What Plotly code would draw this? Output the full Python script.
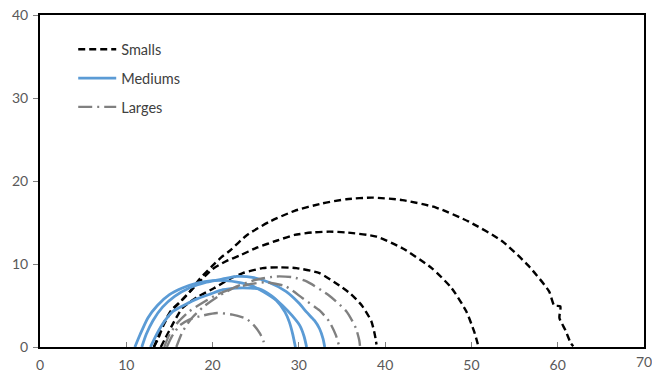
import plotly.graph_objects as go

# ---- data ----
small_1_x = [13.2, 13.6, 14.2, 15.2, 16.3, 17.3, 18.5, 20.0, 21.0, 22.0, 24.0, 26.6, 29.5, 32.7, 35.5, 38.5, 42.0, 45.9, 49.7, 53.5, 56.6, 59.0, 59.6, 60.3, 60.2, 60.9, 61.5, 61.8]
small_1_y = [0.0, 1.0, 2.6, 4.4, 5.5, 6.6, 8.2, 9.8, 10.8, 11.6, 13.5, 15.1, 16.4, 17.3, 17.8, 18.0, 17.7, 16.8, 15.1, 12.8, 9.8, 6.7, 5.0, 4.9, 3.5, 2.0, 0.5, 0.1]
small_2_x = [13.2, 13.7, 14.3, 15.3, 16.4, 17.5, 18.8, 20.0, 21.5, 23.1, 25.2, 27.4, 29.5, 31.6, 33.5, 35.5, 39.0, 42.0, 45.4, 47.7, 49.4, 50.3, 50.7, 50.8]
small_2_y = [0.0, 1.0, 2.6, 4.4, 5.6, 6.8, 8.2, 9.4, 10.3, 11.0, 12.0, 12.8, 13.5, 13.8, 13.9, 13.8, 13.3, 11.9, 9.5, 7.1, 4.3, 1.9, 0.5, 0.0]
small_3_x = [14.0, 14.5, 15.2, 16.5, 18.2, 20.2, 22.0, 23.5, 25.8, 27.7, 29.7, 32.4, 34.7, 36.0, 37.3, 38.4, 38.8, 39.0]
small_3_y = [0.0, 1.0, 2.4, 4.7, 6.0, 7.1, 8.2, 8.9, 9.5, 9.6, 9.5, 8.9, 7.4, 6.4, 5.0, 3.1, 1.5, 0.3]

medium_1_x = [11.0, 11.6, 12.5, 13.6, 15.0, 16.5, 18.2, 20.0, 21.5, 23.0, 24.5, 26.0, 27.4, 28.4, 28.9, 29.3, 29.6]
medium_1_y = [0.0, 1.5, 3.5, 5.0, 6.3, 7.1, 7.7, 8.0, 8.0, 7.8, 7.4, 6.6, 5.6, 4.2, 3.0, 1.5, 0.0]
medium_2_x = [11.8, 12.3, 13.1, 14.2, 15.6, 17.3, 19.3, 21.2, 22.8, 24.6, 26.5, 28.5, 30.0, 30.9, 31.8, 32.4, 32.8, 33.0]
medium_2_y = [0.0, 1.5, 3.2, 4.8, 6.1, 7.1, 7.8, 8.2, 8.5, 8.4, 7.8, 6.7, 5.3, 4.2, 3.2, 2.2, 1.0, 0.0]
medium_3_x = [12.8, 13.5, 14.5, 15.4, 16.8, 18.2, 19.8, 21.2, 22.8, 24.3, 25.4, 26.8, 28.1, 29.2, 30.1, 30.6, 30.9]
medium_3_y = [0.0, 1.5, 3.2, 4.3, 5.1, 5.8, 6.4, 6.9, 7.1, 7.1, 7.0, 6.2, 5.0, 3.8, 2.6, 1.3, 0.0]

large_1_x = [14.7, 15.3, 16.2, 17.3, 18.5, 20.5, 22.3, 23.9, 24.8, 25.5, 25.9, 26.0]
large_1_y = [0.0, 1.3, 2.6, 3.3, 3.7, 4.1, 3.9, 3.4, 2.6, 1.6, 0.7, 0.0]
large_2_x = [14.4, 15.0, 16.0, 17.3, 18.8, 20.5, 22.5, 24.5, 26.2, 28.5, 30.4, 32.4, 33.5, 34.3, 34.7]
large_2_y = [0.0, 1.5, 3.0, 4.3, 5.3, 6.3, 7.1, 7.6, 7.8, 7.3, 5.9, 4.4, 3.1, 1.4, 0.0]
large_3_x = [15.8, 16.5, 17.6, 19.0, 20.8, 22.8, 25.0, 27.4, 29.3, 30.9, 33.5, 35.5, 36.6, 37.0, 37.1]
large_3_y = [0.0, 1.8, 3.5, 4.9, 6.2, 7.3, 8.1, 8.5, 8.4, 7.9, 6.2, 4.3, 2.3, 0.8, 0.0]

series_names = ["Smalls", "Mediums", "Larges"]
x_ticks = [0, 10, 20, 30, 40, 50, 60, 70]
x_tick_labels = ["0", "10", "20", "30", "40", "50", "60", "70"]
y_ticks = [0, 10, 20, 30, 40]

groups = [
    (series_names[0], [(small_1_x, small_1_y), (small_2_x, small_2_y), (small_3_x, small_3_y)],
     dict(color="#000000", width=2.4, dash="7px,4px")),
    (series_names[1], [(medium_1_x, medium_1_y), (medium_2_x, medium_2_y), (medium_3_x, medium_3_y)],
     dict(color="#5B9BD5", width=2.8, dash="solid")),
    (series_names[2], [(large_1_x, large_1_y), (large_2_x, large_2_y), (large_3_x, large_3_y)],
     dict(color="#808080", width=2.4, dash="14px,5px,2px,5px")),
]

fig = go.Figure()
for name, curves, line in groups:
    for i, (cx, cy) in enumerate(curves):
        fig.add_trace(go.Scatter(
            x=cx, y=cy, mode="lines", name=name, legendgroup=name,
            showlegend=(i == 0), line=dict(line, shape="spline", smoothing=0.6),
        ))

# last x tick label sits at the page edge (Plotly would hide it), draw it as an annotation
fig.add_annotation(x=x_ticks[-1], y=0, xref="x", yref="paper", text=x_tick_labels[-1],
                   showarrow=False, yanchor="top", yshift=-4,
                   font=dict(family="Lato, Open Sans, sans-serif", size=14, color="#595959"))

fig.update_layout(
    width=652, height=379,
    margin=dict(l=40, r=6, t=15, b=30),
    paper_bgcolor="white", plot_bgcolor="white",
    font=dict(family="Lato, Open Sans, sans-serif", size=14, color="#595959"),
    showlegend=True,
    legend=dict(x=0.055, y=0.945, xanchor="left", yanchor="top", itemwidth=38,
                bgcolor="rgba(0,0,0,0)", tracegroupgap=7,
                font=dict(size=14.5, color="#404040"), traceorder="grouped"),
    xaxis=dict(range=[0, 70], tickvals=x_ticks[:-1], ticktext=x_tick_labels[:-1],
               showgrid=False, zeroline=False,
               showline=True, linecolor="black", linewidth=2, mirror=True,
               ticks="inside", ticklen=5, tickcolor="#808080",
               ticklabelstandoff=4),
    yaxis=dict(range=[0, 40], tickvals=y_ticks, showgrid=False, zeroline=False,
               showline=True, linecolor="black", linewidth=2, mirror=True,
               ticks="outside", ticklen=5, tickcolor="#808080",
               ticklabelstandoff=2),
)

fig.write_html("out.html", config={"displayModeBar": False},
               post_script="document.body.style.margin='0';document.body.style.padding='0';")
